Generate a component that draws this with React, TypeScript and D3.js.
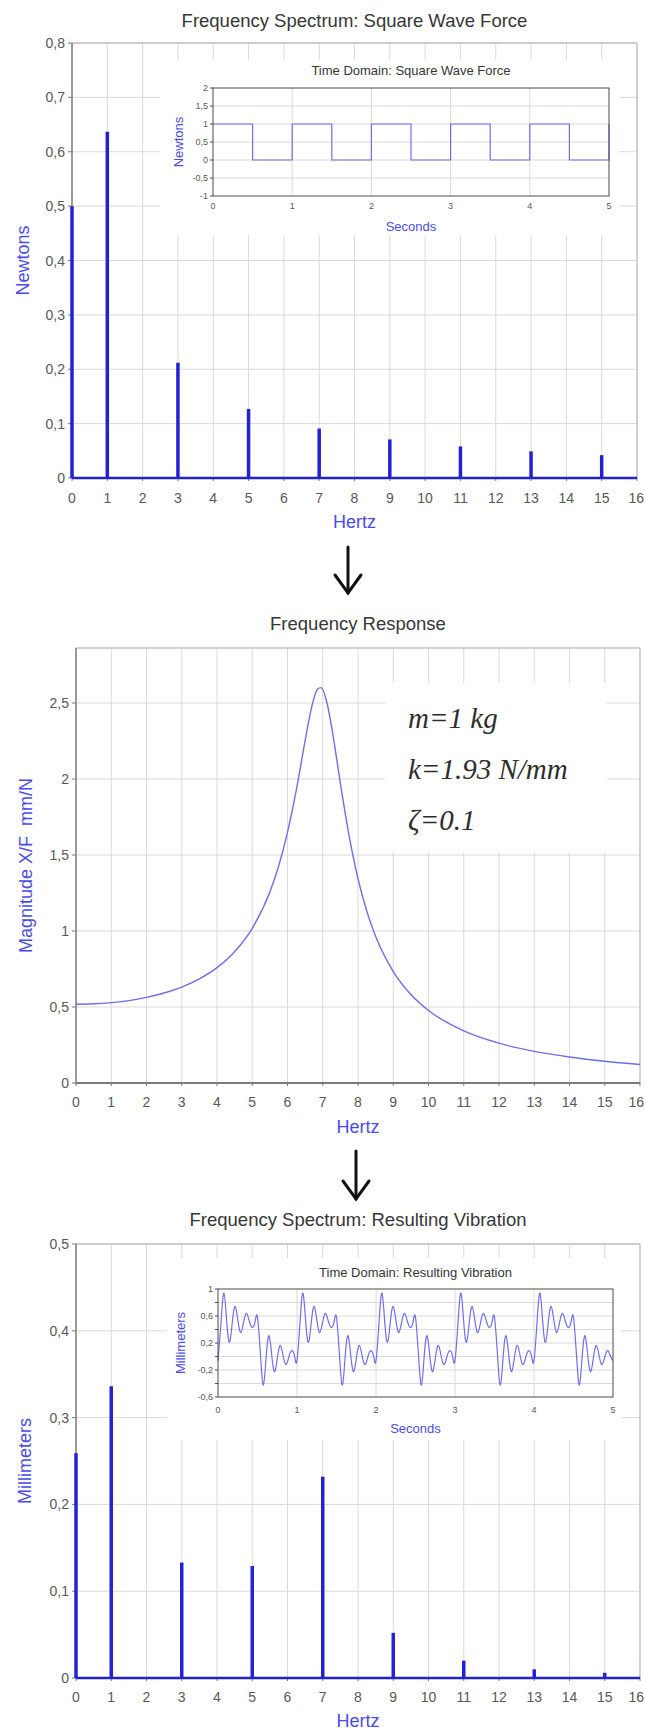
import React from 'react';
import * as d3 from 'd3';

// ---------- shared ticks ----------
const hertzTicks = [0, 1, 2, 3, 4, 5, 6, 7, 8, 9, 10, 11, 12, 13, 14, 15, 16];
const secondsTicks = [0, 1, 2, 3, 4, 5];

// ---------- square wave force ----------
const harmonicHz = [0, 1, 3, 5, 7, 9, 11, 13, 15];
const forceAmplitude = [0.5, 0.637, 0.212, 0.127, 0.091, 0.071, 0.058, 0.049, 0.042];
const forceTicks = [0, 0.1, 0.2, 0.3, 0.4, 0.5, 0.6, 0.7, 0.8];

const squareTime = [0, 0.5, 0.5, 1, 1, 1.5, 1.5, 2, 2, 2.5, 2.5, 3, 3, 3.5, 3.5, 4, 4, 4.5, 4.5, 5, 5];
const squareNewtons = [1, 1, 0, 0, 1, 1, 0, 0, 1, 1, 0, 0, 1, 1, 0, 0, 1, 1, 0, 0, 1];
const squareTicks = [-1, -0.5, 0, 0.5, 1, 1.5, 2];

// ---------- frequency response ----------
const responseHz = [0, 0.5, 1, 1.5, 2, 2.5, 3, 3.5, 4, 4.5, 5, 5.5, 5.75, 6, 6.25, 6.5, 6.6, 6.75, 6.85, 6.95,
  7.1, 7.25, 7.4, 7.5, 7.75, 8, 8.25, 8.5, 9, 9.5, 10, 11, 12, 13, 14, 15, 16];
const responseMag = [0.518, 0.521, 0.529, 0.542, 0.563, 0.592, 0.631, 0.685, 0.759, 0.864, 1.018, 1.257, 1.428,
  1.649, 1.928, 2.252, 2.378, 2.532, 2.59, 2.601, 2.52, 2.345, 2.125, 1.973, 1.624, 1.344, 1.13, 0.965, 0.733,
  0.582, 0.477, 0.343, 0.262, 0.208, 0.171, 0.143, 0.122];
const responseTicks = [0, 0.5, 1, 1.5, 2, 2.5];
const systemParams = ['m=1 kg', 'k=1.93 N/mm', 'ζ=0.1'];

// ---------- resulting vibration ----------
const vibrationAmplitude = [0.259, 0.336, 0.133, 0.129, 0.232, 0.052, 0.02, 0.01, 0.006];
const vibrationTicks = [0, 0.1, 0.2, 0.3, 0.4, 0.5];

const vibrationTime = [
  0, 0.039, 0.075, 0.11, 0.146, 0.182, 0.218, 0.254, 0.29, 0.326, 0.362, 0.398, 0.434, 0.47,
  0.5, 0.539, 0.575, 0.61, 0.646, 0.682, 0.718, 0.754, 0.79, 0.826, 0.862, 0.898, 0.934, 0.97,
  1, 1.039, 1.075, 1.11, 1.146, 1.182, 1.218, 1.254, 1.29, 1.326, 1.362, 1.398, 1.434, 1.47,
  1.5, 1.539, 1.575, 1.61, 1.646, 1.682, 1.718, 1.754, 1.79, 1.826, 1.862, 1.898, 1.934, 1.97,
  2, 2.039, 2.075, 2.11, 2.146, 2.182, 2.218, 2.254, 2.29, 2.326, 2.362, 2.398, 2.434, 2.47,
  2.5, 2.539, 2.575, 2.61, 2.646, 2.682, 2.718, 2.754, 2.79, 2.826, 2.862, 2.898, 2.934, 2.97,
  3, 3.039, 3.075, 3.11, 3.146, 3.182, 3.218, 3.254, 3.29, 3.326, 3.362, 3.398, 3.434, 3.47,
  3.5, 3.539, 3.575, 3.61, 3.646, 3.682, 3.718, 3.754, 3.79, 3.826, 3.862, 3.898, 3.934, 3.97,
  4, 4.039, 4.075, 4.11, 4.146, 4.182, 4.218, 4.254, 4.29, 4.326, 4.362, 4.398, 4.434, 4.47,
  4.5, 4.539, 4.575, 4.61, 4.646, 4.682, 4.718, 4.754, 4.79, 4.826, 4.862, 4.898, 4.934, 4.97,
  5,
];
const vibrationMm = [
  -0.063, 0.518, 0.94, 0.518, 0.211, 0.518, 0.742, 0.518, 0.355, 0.518, 0.637, 0.518, 0.431, 0.518,
  0.581, 0, -0.422, 0, 0.308, 0, -0.224, 0, 0.164, 0, -0.119, 0, 0.087, 0,
  -0.063, 0.518, 0.94, 0.518, 0.211, 0.518, 0.742, 0.518, 0.355, 0.518, 0.637, 0.518, 0.431, 0.518,
  0.581, 0, -0.422, 0, 0.308, 0, -0.224, 0, 0.164, 0, -0.119, 0, 0.087, 0,
  -0.063, 0.518, 0.94, 0.518, 0.211, 0.518, 0.742, 0.518, 0.355, 0.518, 0.637, 0.518, 0.431, 0.518,
  0.581, 0, -0.422, 0, 0.308, 0, -0.224, 0, 0.164, 0, -0.119, 0, 0.087, 0,
  -0.063, 0.518, 0.94, 0.518, 0.211, 0.518, 0.742, 0.518, 0.355, 0.518, 0.637, 0.518, 0.431, 0.518,
  0.581, 0, -0.422, 0, 0.308, 0, -0.224, 0, 0.164, 0, -0.119, 0, 0.087, 0,
  -0.063, 0.518, 0.94, 0.518, 0.211, 0.518, 0.742, 0.518, 0.355, 0.518, 0.637, 0.518, 0.431, 0.518,
  0.581, 0, -0.422, 0, 0.308, 0, -0.224, 0, 0.164, 0, -0.119, 0, 0.087, 0,
  -0.063,
];
const vibrationGrid = [-0.6, -0.4, -0.2, 0, 0.2, 0.4, 0.6, 0.8, 1];
const vibrationLabels = [-0.6, -0.2, 0.2, 0.6, 1];

// ---------- styling ----------
const SANS = "'Liberation Sans', Arial, Helvetica, sans-serif";
const SERIF = "'Liberation Serif', 'Times New Roman', serif";
const TITLE_COLOR = '#363636';
const TICK_COLOR = '#585858';
const AXIS_TITLE_COLOR = '#4b4bef';
const GRID_COLOR = '#dadada';
const FRAME_COLOR = '#c2c2c2';
const AXIS_COLOR = '#7a7a7a';
const SPIKE_COLOR = '#2222d4';
const TRACE_COLOR = '#6e6ef2';
const PAGE_WIDTH = 645;

const fmt = (v: number) => String(+v.toFixed(2)).replace('.', ',');

type Scale = d3.ScaleLinear<number, number>;

type MainProps = {
  title: string;
  titleY: number;
  left: number;
  right: number;
  top: number;
  bottom: number;
  yMax: number;
  yTicks: number[];
  yTitle: string;
  yTitleX: number;
  tickLabelY: number;
  hertzY: number;
  baseColor: string;
  baseWidth: number;
  underlay?: (x: Scale, y: Scale) => React.ReactNode;
  overlay?: (x: Scale, y: Scale) => React.ReactNode;
};

function MainChart(p: MainProps) {
  const x = d3.scaleLinear().domain([0, 16]).range([p.left, p.right]);
  const y = d3.scaleLinear().domain([0, p.yMax]).range([p.bottom, p.top]);
  const midX = (p.left + p.right) / 2;
  const midY = (p.top + p.bottom) / 2;
  return (
    <g>
      <text x={midX} y={p.titleY} textAnchor="middle" fontSize={18.5} fill={TITLE_COLOR}>
        {p.title}
      </text>
      <g stroke={GRID_COLOR} strokeWidth={1}>
        {hertzTicks.slice(1, -1).map((t) => (
          <line key={`v${t}`} x1={x(t)} x2={x(t)} y1={p.top} y2={p.bottom} />
        ))}
        {p.yTicks.filter((t) => t > 0).map((t) => (
          <line key={`h${t}`} x1={p.left} x2={p.right} y1={y(t)} y2={y(t)} />
        ))}
      </g>
      <line x1={p.left} x2={p.right} y1={p.top} y2={p.top} stroke={FRAME_COLOR} strokeWidth={1.5} />
      <line x1={p.right} x2={p.right} y1={p.top} y2={p.bottom} stroke={FRAME_COLOR} strokeWidth={1.5} />
      {p.underlay && p.underlay(x, y)}
      <line x1={p.left} x2={p.left} y1={p.top} y2={p.bottom} stroke={AXIS_COLOR} strokeWidth={1.5} />
      <g stroke={AXIS_COLOR} strokeWidth={1}>
        {p.yTicks.map((t) => (
          <line key={`yt${t}`} x1={p.left - 4} x2={p.left} y1={y(t)} y2={y(t)} />
        ))}
        {hertzTicks.map((t) => (
          <line key={`xt${t}`} x1={x(t)} x2={x(t)} y1={p.bottom} y2={p.bottom + 3} />
        ))}
      </g>
      <line x1={p.left} x2={p.right} y1={p.bottom} y2={p.bottom} stroke={p.baseColor} strokeWidth={p.baseWidth} />
      {p.overlay && p.overlay(x, y)}
      <g fontSize={14} fill={TICK_COLOR}>
        {p.yTicks.map((t) => (
          <text key={`yl${t}`} x={p.left - 7} y={y(t)} dy="0.36em" textAnchor="end">
            {fmt(t)}
          </text>
        ))}
        {hertzTicks.map((t) => {
          // the last label sits at the page edge, so keep it inside the page
          const edge = x(t) + 9 > PAGE_WIDTH;
          return (
            <text
              key={`xl${t}`}
              x={edge ? PAGE_WIDTH - 1 : x(t)}
              y={p.tickLabelY}
              textAnchor={edge ? 'end' : 'middle'}
            >
              {t}
            </text>
          );
        })}
      </g>
      <text x={midX} y={p.hertzY} textAnchor="middle" fontSize={18} fill={AXIS_TITLE_COLOR}>
        Hertz
      </text>
      <text
        transform={`translate(${p.yTitleX},${midY}) rotate(-90)`}
        textAnchor="middle"
        fontSize={18}
        fill={AXIS_TITLE_COLOR}
        style={{ whiteSpace: 'pre' }}
      >
        {p.yTitle}
      </text>
    </g>
  );
}

type InsetProps = {
  box: [number, number, number, number];
  title: string;
  titleY: number;
  left: number;
  right: number;
  top: number;
  bottom: number;
  yDomain: [number, number];
  yGrid: number[];
  yLabels: number[];
  yTitle: string;
  yTitleX: number;
  tickLabelY: number;
  secondsY: number;
  time: number[];
  values: number[];
  curve: d3.CurveFactory;
};

function Inset(p: InsetProps) {
  const x = d3.scaleLinear().domain([0, 5]).range([p.left, p.right]);
  const y = d3.scaleLinear().domain(p.yDomain).range([p.bottom, p.top]);
  const pts: [number, number][] = p.time.map((t, i) => [t, p.values[i]]);
  const line = d3
    .line<[number, number]>()
    .x((d) => x(d[0]))
    .y((d) => y(d[1]))
    .curve(p.curve);
  const midX = (p.left + p.right) / 2;
  const [bx0, by0, bx1, by1] = p.box;
  return (
    <g>
      <rect x={bx0} y={by0} width={bx1 - bx0} height={by1 - by0} fill="#fff" />
      <text x={midX} y={p.titleY} textAnchor="middle" fontSize={13} fill={TITLE_COLOR}>
        {p.title}
      </text>
      <g stroke={GRID_COLOR} strokeWidth={1}>
        {secondsTicks.slice(1, -1).map((t) => (
          <line key={`v${t}`} x1={x(t)} x2={x(t)} y1={p.top} y2={p.bottom} />
        ))}
        {p.yGrid.slice(1, -1).map((t) => (
          <line key={`h${t}`} x1={p.left} x2={p.right} y1={y(t)} y2={y(t)} />
        ))}
      </g>
      <path d={line(pts) || ''} fill="none" stroke={TRACE_COLOR} strokeWidth={1.2} />
      <rect
        x={p.left}
        y={p.top}
        width={p.right - p.left}
        height={p.bottom - p.top}
        fill="none"
        stroke="#4a4a4a"
        strokeWidth={1}
      />
      <g stroke="#4a4a4a" strokeWidth={1}>
        {p.yGrid.map((t) => (
          <line key={`yt${t}`} x1={p.left - 3} x2={p.left} y1={y(t)} y2={y(t)} />
        ))}
      </g>
      <g fontSize={9} fill={TICK_COLOR}>
        {p.yLabels.map((t) => (
          <text key={`yl${t}`} x={p.left - 5} y={y(t)} dy="0.35em" textAnchor="end">
            {fmt(t)}
          </text>
        ))}
        {secondsTicks.map((t) => (
          <text key={`xl${t}`} x={x(t)} y={p.tickLabelY} textAnchor="middle">
            {t}
          </text>
        ))}
      </g>
      <text x={midX} y={p.secondsY} textAnchor="middle" fontSize={13} fill={AXIS_TITLE_COLOR}>
        Seconds
      </text>
      <text
        transform={`translate(${p.yTitleX},${(p.top + p.bottom) / 2}) rotate(-90)`}
        textAnchor="middle"
        fontSize={13}
        fill={AXIS_TITLE_COLOR}
      >
        {p.yTitle}
      </text>
    </g>
  );
}

function Spikes({ x, y, amps }: { x: Scale; y: Scale; amps: number[] }) {
  return (
    <g stroke={SPIKE_COLOR} strokeWidth={3.5}>
      {harmonicHz.map((f, i) => (
        <line key={f} x1={x(f)} x2={x(f)} y1={y(0)} y2={y(amps[i])} />
      ))}
    </g>
  );
}

function DownArrow({ x, y0, y1 }: { x: number; y0: number; y1: number }) {
  return (
    <g stroke="#111" strokeWidth={3} fill="none" strokeLinecap="round" strokeLinejoin="miter">
      <line x1={x} x2={x} y1={y0} y2={y1} />
      <path d={`M${x - 13},${y1 - 18} L${x},${y1} L${x + 13},${y1 - 18}`} />
    </g>
  );
}

export default function App() {
  return (
    <svg
      width={645}
      height={1731}
      viewBox="0 0 645 1731"
      fontFamily={SANS}
      style={{ position: 'absolute', left: 0, top: 0, background: '#fff' }}
    >
      <rect width={645} height={1731} fill="#fff" />

      {/* square wave force spectrum */}
      <MainChart
        title="Frequency Spectrum: Square Wave Force"
        titleY={27}
        left={72}
        right={637}
        top={43}
        bottom={478}
        yMax={0.8}
        yTicks={forceTicks}
        yTitle="Newtons"
        yTitleX={29}
        tickLabelY={503}
        hertzY={528}
        baseColor={SPIKE_COLOR}
        baseWidth={2.5}
        underlay={() => (
          <Inset
            box={[160, 60, 619, 235]}
            title="Time Domain: Square Wave Force"
            titleY={75}
            left={213}
            right={609}
            top={88}
            bottom={196}
            yDomain={[-1, 2]}
            yGrid={squareTicks}
            yLabels={squareTicks}
            yTitle="Newtons"
            yTitleX={183}
            tickLabelY={209}
            secondsY={231}
            time={squareTime}
            values={squareNewtons}
            curve={d3.curveLinear}
          />
        )}
        overlay={(x, y) => <Spikes x={x} y={y} amps={forceAmplitude} />}
      />

      <DownArrow x={348} y0={547} y1={593} />

      {/* frequency response */}
      <MainChart
        title="Frequency Response"
        titleY={630}
        left={76}
        right={640}
        top={648}
        bottom={1083}
        yMax={2.862}
        yTicks={responseTicks}
        yTitle="Magnitude X/F  mm/N"
        yTitleX={32}
        tickLabelY={1107}
        hertzY={1133}
        baseColor={AXIS_COLOR}
        baseWidth={2}
        underlay={(x, y) => {
          const line = d3
            .line<number>()
            .x((d) => x(d))
            .y((_, i) => y(responseMag[i]))
            .curve(d3.curveMonotoneX);
          return (
            <g>
              <rect x={385} y={683} width={222} height={169} fill="#fff" />
              <g fontFamily={SERIF} fontStyle="italic" fontSize={29} fill="#2e2e2e">
                {systemParams.map((s, i) => (
                  <text key={s} x={408} y={728 + i * 51}>
                    {s}
                  </text>
                ))}
              </g>
              <path d={line(responseHz) || ''} fill="none" stroke={TRACE_COLOR} strokeWidth={1.4} />
            </g>
          );
        }}
      />

      <DownArrow x={356} y0={1151} y1={1199} />

      {/* resulting vibration spectrum */}
      <MainChart
        title="Frequency Spectrum: Resulting Vibration"
        titleY={1226}
        left={76}
        right={640}
        top={1244}
        bottom={1678}
        yMax={0.5}
        yTicks={vibrationTicks}
        yTitle="Millimeters"
        yTitleX={31}
        tickLabelY={1702}
        hertzY={1727}
        baseColor={SPIKE_COLOR}
        baseWidth={2.5}
        underlay={() => (
          <Inset
            box={[167, 1258, 621, 1440]}
            title="Time Domain: Resulting Vibration"
            titleY={1277}
            left={218}
            right={613}
            top={1289}
            bottom={1397}
            yDomain={[-0.6, 1]}
            yGrid={vibrationGrid}
            yLabels={vibrationLabels}
            yTitle="Millimeters"
            yTitleX={185}
            tickLabelY={1413}
            secondsY={1433}
            time={vibrationTime}
            values={vibrationMm}
            curve={d3.curveNatural}
          />
        )}
        overlay={(x, y) => <Spikes x={x} y={y} amps={vibrationAmplitude} />}
      />
    </svg>
  );
}
